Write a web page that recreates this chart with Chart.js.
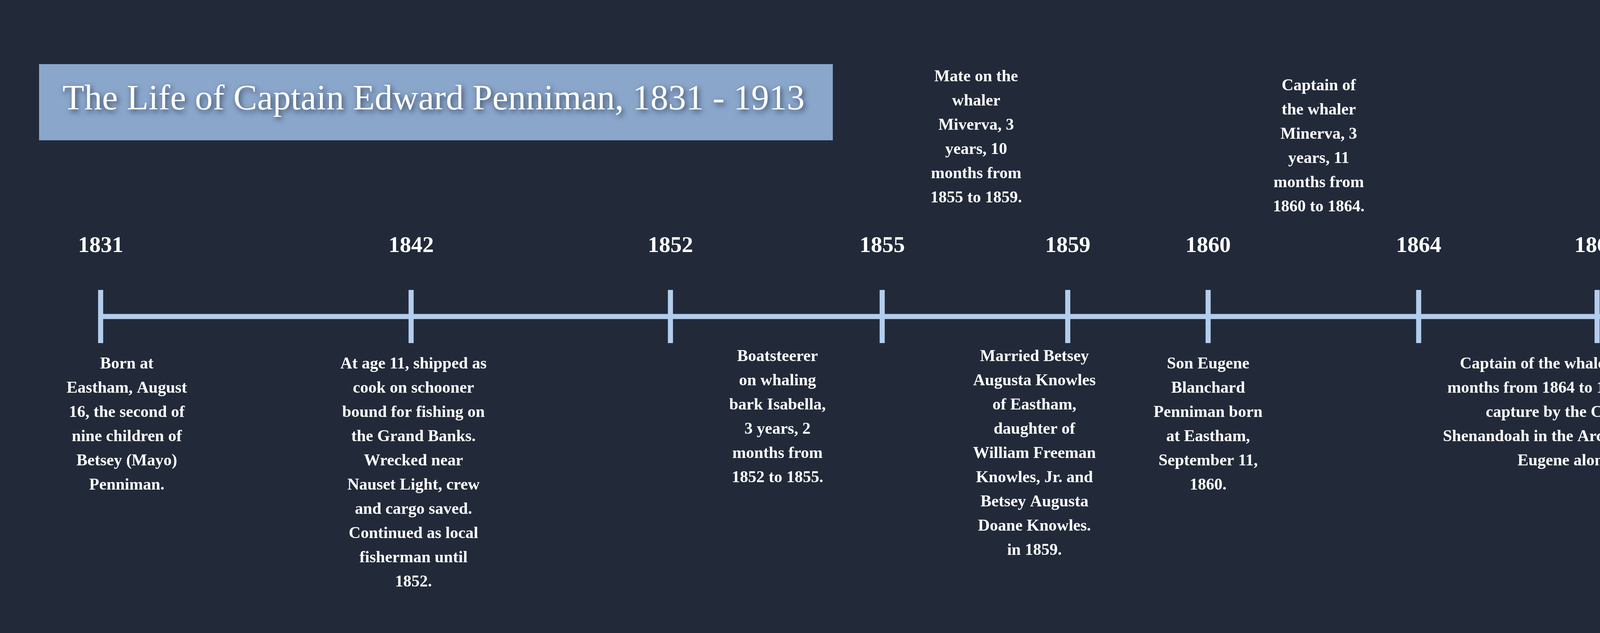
<!DOCTYPE html>
<html>
<head>
<meta charset="utf-8">
<script src="https://cdn.jsdelivr.net/npm/chart.js@4"></script>
<style>
  html, body { margin: 0; padding: 0; background: #222a3a; }
  #wrap { width: 4937px; height: 1620px; }
</style>
</head>
<body>
<div id="wrap"><canvas id="timeline"></canvas></div>
<script>
// Años de la línea de tiempo y su posición sobre el eje (unidades)
const years = ['1831', '1842', '1852', '1855', '1859', '1860', '1864', '1867', '1868', '1870'];
const yearSlots = [5.8, 31.9, 53.7, 71.5, 87.1, 98.9, 116.6, 131.6, 147.2, 156.6];
const axisEnd = 156.8;

// Textos de los eventos
const eventTexts = [
  ['Born at', 'Eastham, August', '16, the second of', 'nine children of', 'Betsey (Mayo)', 'Penniman.'],
  ['At age 11, shipped as', 'cook on schooner', 'bound for fishing on', 'the Grand Banks.', 'Wrecked near', 'Nauset Light, crew', 'and cargo saved.', 'Continued as local', 'fisherman until', '1852.'],
  ['Boatsteerer', 'on whaling', 'bark Isabella,', '3 years, 2', 'months from', '1852 to 1855.'],
  ['Mate on the', 'whaler', 'Miverva, 3', 'years, 10', 'months from', '1855 to 1859.'],
  ['Married Betsey', 'Augusta Knowles', 'of Eastham,', 'daughter of', 'William Freeman', 'Knowles, Jr. and', 'Betsey Augusta', 'Doane Knowles.', 'in 1859.'],
  ['Son Eugene', 'Blanchard', 'Penniman born', 'at Eastham,', 'September 11,', '1860.'],
  ['Captain of', 'the whaler', 'Minerva, 3', 'years, 11', 'months from', '1860 to 1864.'],
  ['Captain of the whaler Minerva, 3 years, 5', 'months from 1864 to 1868. Narrowly avoided', 'capture by the Confederate raider', 'Shenandoah in the Arctic. Mrs. Penniman and', 'Eugene along for voyage.'],
  ['The Penniman', 'house was built on', 'Fort Hill Road in', 'Eastham from', '1867 to 1868.'],
  ['Daughter Betsey', 'Augusta Penniman', 'born at Eastham,', 'September 2, 1868.'],
  ['Son Edward', 'Dane', 'Penniman', 'born at', 'Eastham,', 'March 1,', '1870.']
];
// Centro horizontal de cada texto (mismas unidades que el eje)
const eventCenters = [8.0, 32.1, 62.7, 79.4, 84.3, 98.9, 108.2, 132.3, 139.0, 147.7, 158.6];
// true = encima del eje, false = debajo
const eventAbove = [false, false, false, true, false, false, true, false, true, false, true];

const titleText = 'The Life of Captain Edward Penniman, 1831 - 1913';

const lineColor = '#b3cdec';
const lineGap = 62;

const labelsPlugin = {
  id: 'labels',
  afterDatasetsDraw(chart) {
    const c = chart.ctx;
    const xs = chart.scales.x;
    c.save();

    // Caja del título
    c.fillStyle = '#8aa6cb';
    c.fillRect(100, 164, 2032, 195);
    let size = 90;
    c.font = size + 'px "Liberation Serif"';
    size = size * 1900 / c.measureText(titleText).width;
    c.font = size + 'px "Liberation Serif"';
    c.fillStyle = '#ffffff';
    c.textAlign = 'left';
    c.textBaseline = 'alphabetic';
    c.shadowColor = 'rgba(20,30,50,0.7)';
    c.shadowBlur = 14;
    c.shadowOffsetX = 4;
    c.shadowOffsetY = 6;
    c.fillText(titleText, 160, 280);
    c.shadowColor = 'transparent';

    // Años
    c.textAlign = 'center';
    c.textBaseline = 'middle';
    c.font = 'bold 58px "Liberation Serif"';
    years.forEach((y, i) => {
      c.fillText(y, xs.getPixelForValue(yearSlots[i]), 630);
    });

    // Textos de eventos
    c.font = 'bold 42px "Liberation Serif"';
    eventTexts.forEach((lines, i) => {
      const x = xs.getPixelForValue(eventCenters[i]);
      let y0;
      if (eventAbove[i]) {
        const bottom = i === 10 ? 510 : (i === 3 ? 507 : 530);
        y0 = bottom - (lines.length - 1) * lineGap;
      } else {
        y0 = i === 9 ? 1250 : (i === 2 || i === 4 ? 913 : 932);
      }
      lines.forEach((t, k) => c.fillText(t, x, y0 + k * lineGap));
    });
    c.restore();
  }
};

const axisX = yearSlots.concat([axisEnd + 2]);
const axisPoints = axisX.map(v => ({ x: v, y: 0 }));

new Chart(document.getElementById('timeline').getContext('2d'), {
  type: 'line',
  data: {
    datasets: [{
      data: axisPoints,
      borderColor: lineColor,
      backgroundColor: lineColor,
      borderWidth: 13,
      pointStyle: 'line',
      pointRotation: 90,
      pointRadius: axisX.map((v, i) => i < yearSlots.length ? 68 : 0),
      pointBorderWidth: 13,
      pointBorderColor: lineColor,
      tension: 0
    }]
  },
  options: {
    responsive: true,
    maintainAspectRatio: false,
    animation: false,
    layout: { padding: { left: 0, right: 0, top: 0, bottom: 70 } },
    plugins: { legend: { display: false }, tooltip: { enabled: false } },
    scales: {
      x: { type: 'linear', min: 0, max: axisEnd, display: false },
      y: { min: -1, max: 1, display: false }
    }
  },
  plugins: [labelsPlugin]
});
</script>
</body>
</html>
